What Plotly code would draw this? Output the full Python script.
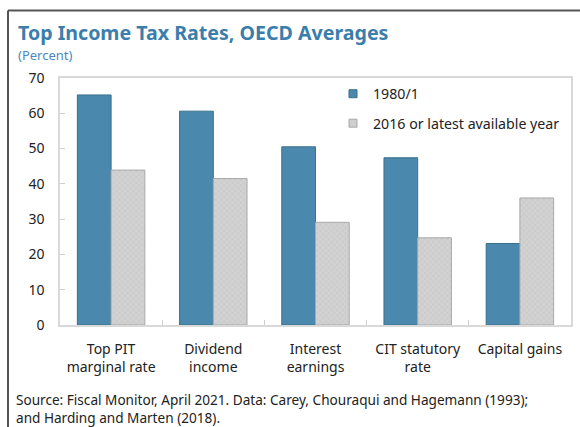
import plotly.graph_objects as go

categories = ["Top PIT<br>marginal rate", "Dividend<br>income", "Interest<br>earnings", "CIT statutory<br>rate", "Capital gains"]
series_1980 = [65.2, 60.6, 50.5, 47.4, 23.1]
series_2016 = [43.9, 41.5, 29.1, 24.7, 36.0]
y_ticks = [0, 10, 20, 30, 40, 50, 60, 70]
series_names = ["1980/1", "2016 or latest available year"]

W, H = 580, 427
L, R, T, B = 60, 9, 78, 102
pw, ph = W - L - R, H - T - B

def px(x):
    return (x - L) / pw

def py(y):
    return (H - B - y) / ph

font = "Noto Sans"
blue, blue_edge = "#4a89ad", "#3c6f8d"
gray, gray_edge = "#cdcdcd", "#a8a8a8"

fig = go.Figure()
fig.add_trace(go.Bar(
    x=categories, y=series_1980, name=series_names[0], showlegend=False,
    marker=dict(color=blue, line=dict(color=blue_edge, width=1)),
))
fig.add_trace(go.Bar(
    x=categories, y=series_2016, name=series_names[1], showlegend=False,
    marker=dict(color=gray, line=dict(color=gray_edge, width=1),
                pattern=dict(shape="x", fgcolor="#b4b4b4", bgcolor="#d2d2d2", size=4, solidity=0.25)),
))
# legend entries (small squares, as in the reference)
for i, (nm, c, e) in enumerate(zip(series_names, [blue, "#cfcfcf"], [blue_edge, gray_edge])):
    fig.add_trace(go.Scatter(
        x=[None], y=[None], mode="markers", name=nm, legendgroup=f"g{i}",
        marker=dict(symbol="square", size=8, color=c, line=dict(color=e, width=1)),
    ))

fig.update_layout(
    width=W, height=H,
    margin=dict(l=L, r=R, t=T, b=B, autoexpand=False),
    paper_bgcolor="white", plot_bgcolor="white",
    barmode="group", bargap=0.34, bargroupgap=0,
    font=dict(family=font, size=14, color="#222222"),
    showlegend=True,
    legend=dict(x=px(333), y=py(78), xanchor="left", yanchor="top",
                font=dict(size=14.2, color="#222222"), bgcolor="rgba(0,0,0,0)",
                tracegroupgap=8, itemwidth=30),
    xaxis=dict(showline=True, linecolor="#d9d9d9", linewidth=1.5, mirror=True,
               ticks="inside", tickson="boundaries", ticklen=5, tickcolor="#cfcfcf",
               tickfont=dict(size=14), showgrid=False, ticklabelstandoff=10),
    yaxis=dict(range=[0, 70], tickvals=y_ticks, showline=True, linecolor="#d9d9d9",
               linewidth=1.5, mirror=True, ticks="inside", ticklen=5, tickcolor="#cfcfcf",
               showgrid=False, zeroline=False, tickfont=dict(size=14), ticklabelstandoff=11),
    shapes=[
        dict(type="line", xref="paper", yref="paper", x0=px(8), x1=px(600), y0=py(10.5), y1=py(10.5),
             line=dict(color="#555555", width=2), layer="above"),
        dict(type="line", xref="paper", yref="paper", x0=px(8), x1=px(8), y0=py(10.5), y1=py(440),
             line=dict(color="#555555", width=2), layer="above"),
    ],
    annotations=[
        dict(text="<b>Top Income Tax Rates, OECD Averages</b>", xref="paper", yref="paper",
             x=px(16), y=py(33), xanchor="left", yanchor="middle", showarrow=False,
             font=dict(size=19.6, color="#3b7eab", family=font)),
        dict(text="(Percent)", xref="paper", yref="paper",
             x=px(16), y=py(55), xanchor="left", yanchor="middle", showarrow=False,
             font=dict(size=13, color="#4a89c0", family=font)),
        dict(text="Source: Fiscal Monitor, April 2021. Data: Carey, Chouraqui and Hagemann (1993);<br>and Harding and Marten (2018).",
             xref="paper", yref="paper", x=px(14), y=py(388), xanchor="left", yanchor="top",
             align="left", showarrow=False, font=dict(size=13.6, color="#222222", family=font)),
    ],
)

fig.write_html("out.html", config={"displayModeBar": False},
               post_script="document.body.style.margin='0';document.body.style.overflow='hidden';")
